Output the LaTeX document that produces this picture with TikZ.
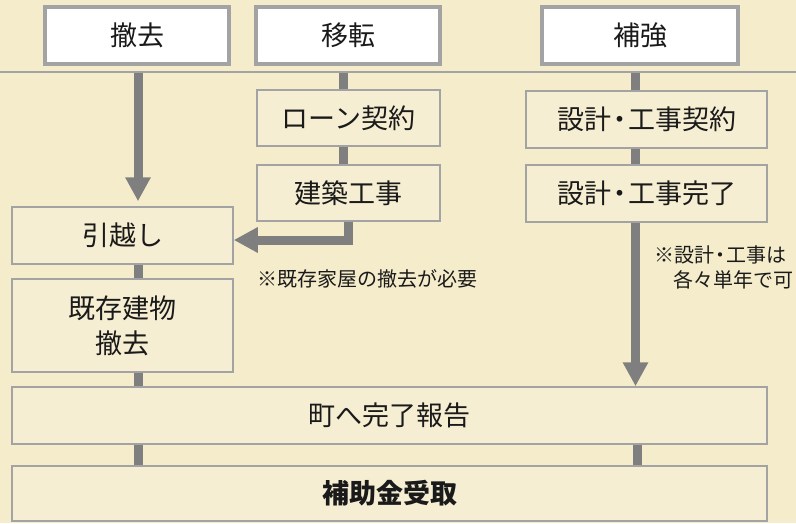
\documentclass[tikz,border=0pt]{standalone}
\usepackage{fontspec}
\newfontfamily\jp{Noto Sans CJK JP}
\usetikzlibrary{arrows.meta}
\definecolor{bg}{HTML}{F5ECCB}
\definecolor{conn}{HTML}{7F7F7F}
\definecolor{bord}{HTML}{A3A3A3}
\definecolor{txt}{HTML}{1A1A1A}
\tikzset{
  topbox/.style={draw=bord, line width=3.5pt, fill=white, inner sep=0pt, text=txt,
    font=\jp\fontsize{27}{35}\selectfont},
  stepbox/.style={draw=bord, line width=1.5pt, fill=white, fill opacity=0.15, text opacity=1,
    inner sep=0pt, text=txt, align=center, font=\jp\fontsize{27}{35}\selectfont},
  bar/.style={draw=conn, line width=9pt},
  arr/.style={bar, -{Triangle[width=24pt,length=24pt]}},
  note/.style={text=txt, inner sep=0pt, font=\jp\fontsize{20}{24}\selectfont}
}
\begin{document}
\begin{tikzpicture}[x=1pt,y=-1pt]
\useasboundingbox (0,0) rectangle (796,523);
\fill[bg] (0,0) rectangle (796,523);
% column coordinates
\coordinate (colA) at (138,0);
\coordinate (colB) at (343.5,0);
\coordinate (colB2) at (348,0);
\coordinate (colC) at (635.5,0);
\coordinate (colC2) at (637,0);
\coordinate (hlL) at (0,72);
\coordinate (hlR) at (796,72);
% top boxes
\node[topbox, minimum width=184pt, minimum height=57pt] (tA) at (137,35.5) {撤去};
\node[topbox, minimum width=184pt, minimum height=57pt] (tB) at (348,35.5) {移転};
\node[topbox, minimum width=196pt, minimum height=57pt] (tC) at (640,35.5) {補強};
% step boxes
\node[stepbox, minimum width=183pt, minimum height=56pt] (loan) at (348.5,118) {ローン契約};
\node[stepbox, minimum width=183pt, minimum height=56pt] (build) at (348.5,193) {建築工事};
\node[stepbox, minimum width=241pt, minimum height=57pt] (dc) at (646.5,119.5) {設計\kern-5pt・\kern-5pt工事契約};
\node[stepbox, minimum width=241pt, minimum height=57pt] (dd) at (646.5,193.5) {設計\kern-5pt・\kern-5pt工事完了};
\node[stepbox, minimum width=221pt, minimum height=57pt] (move) at (122.5,235.5) {引越し};
\node[stepbox, minimum width=221pt, minimum height=93pt] (demo) at (122.5,325.5) {既存建物\\撤去};
\node[stepbox, minimum width=755pt, minimum height=57pt] (report) at (389.5,415.5) {町へ完了報告};
\node[stepbox, minimum width=755pt, minimum height=55pt] (fund) at (389.5,493.5) {\bfseries 補助金受取};
% notes
\node[note, anchor=west] (n1) at (257,279) {※既存家屋の撤去が必要};
\node[note] (n2) at (720,255) {※設計\kern-4pt・\kern-4pt工事は};
\node[note] (n3) at (733,280) {各々単年で可};
% connectors
\draw[arr, shorten >=5pt] (hlL -| colA) -- (move.north -| colA);
\draw[bar] (hlL -| colB) -- (loan.north -| colB);
\draw[bar] (loan.south -| colB) -- (build.north -| colB);
\draw[arr, line join=miter] (build.south -| colB2) |- ([yshift=-4.5pt]move.east);
\draw[bar] (hlL -| colC) -- (dc.north -| colC);
\draw[bar] (dc.south -| colC) -- (dd.north -| colC);
\draw[arr] (dd.south -| colC) -- (report.north -| colC);
\draw[bar] (move.south -| colA) -- (demo.north -| colA);
\draw[bar] (demo.south -| colA) -- (report.north -| colA);
\draw[bar] (report.south -| colA) -- (fund.north -| colA);
\draw[bar] (report.south -| colC2) -- (fund.north -| colC2);
% separator line
\draw[bord, line width=1.5pt] (hlL) -- (hlR);
\end{tikzpicture}
\end{document}
